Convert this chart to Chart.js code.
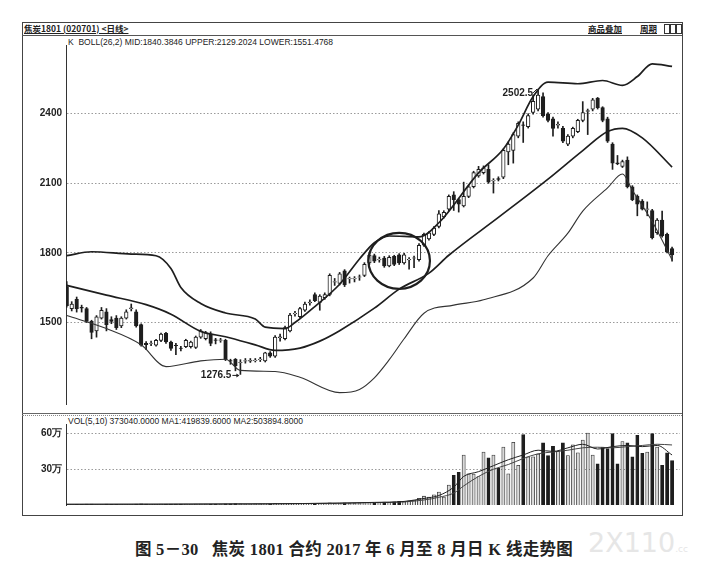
<!DOCTYPE html>
<html>
<head>
<meta charset="utf-8">
<script src="https://cdn.jsdelivr.net/npm/chart.js@4.4.1/dist/chart.umd.min.js"></script>
<style>
  body { margin: 0; background: #fff; width: 708px; height: 565px; position: relative; overflow: hidden;
         font-family: "Liberation Sans", Arial, sans-serif; color: #222; }
  .abs { position: absolute; white-space: nowrap; }
  #frame { left: 22px; top: 22px; width: 659px; height: 492px; border: 1px solid #444; }
  #titlebar { left: 22px; top: 35px; width: 660px; height: 0; border-top: 1px solid #555; }
  #sep1 { left: 22px; top: 413px; width: 660px; height: 0; border-top: 1px solid #666; }
  #sep2 { left: 22px; top: 415px; width: 660px; height: 0; border-top: 1px dotted #888; }
  .small { font-size: 8.5px; line-height: 10px; }
  .cjk { font-family: "Noto Sans CJK SC", sans-serif; }
  .btn { top: 24px; width: 4px; height: 8px; border: 1px solid #333; }
  canvas { position: absolute; }
  #caption { left: 0; top: 536px; width: 708px; text-align: center; font-family: "Liberation Serif", "Noto Sans CJK SC", serif;
             font-weight: bold; font-size: 16.5px; letter-spacing: 0.3px; color: #222; }
  #wm { left: 588px; top: 527px; font-family: "DejaVu Sans", sans-serif; font-size: 27px; color: #e6e6e6; }
</style>
</head>
<body>
<div id="frame" class="abs"></div>
<div id="titlebar" class="abs"></div>
<div id="sep1" class="abs"></div>
<div id="sep2" class="abs"></div>
<div class="abs small cjk" style="left:24px;top:23px;text-decoration:underline;font-weight:bold;">焦炭1801 (020701) &lt;日线&gt;</div>
<div class="abs small cjk" style="left:588px;top:23px;text-decoration:underline;font-weight:bold;">商品叠加</div>
<div class="abs small cjk" style="left:640px;top:23px;text-decoration:underline;font-weight:bold;">周期</div>
<div class="abs btn" style="left:664px;"></div>
<div class="abs btn" style="left:670px;"></div>
<div class="abs btn" style="left:676px;"></div>
<div class="abs small" style="left:68px;top:37px;">K&nbsp; BOLL(26,2) MID:1840.3846 UPPER:2129.2024 LOWER:1551.4768</div>
<div class="abs small" style="left:68px;top:416px;">VOL(5,10) 373040.0000 MA1:419839.6000 MA2:503894.8000</div>

<canvas id="price" width="660" height="379" style="left:22px;top:35px;"></canvas>
<canvas id="vol" width="660" height="101" style="left:22px;top:414px;"></canvas>

<div id="caption" class="abs">图 5－30&nbsp;&nbsp; 焦炭 1801 合约 2017 年 6 月至 8 月日 K 线走势图</div>
<div id="wm" class="abs">2X110<span style="font-size:9px">.cc</span></div>

<script>
// daily candles
const open = [1655,1560,1600,1566,1560,1505,1464,1519,1546,1513,1519,1485,1519,1560,1546,1491,1410,1410,1403,1423,
  1453,1416,1402,1390,1396,1396,1393,1437,1430,1450,1425,1423,1423,1336,1341,1327,1334,1334,1336,1340,
  1335,1369,1355,1435,1430,1464,1537,1525,1553,1585,1621,1587,1607,1621,1674,1669,1723,1688,1688,1695,
  1703,1757,1789,1770,1778,1744,1785,1792,1757,1770,1777,1771,1833,1860,1880,1914,1955,1989,2050,2030,
  2003,2044,2085,2132,2146,2160,2110,2120,2126,2235,2242,2303,2352,2344,2405,2419,2474,2399,2378,2350,
  2337,2269,2303,2323,2371,2410,2419,2467,2426,2378,2269,2188,2173,2200,2085,2044,2023,1988,1982,1887,
  1942,1880,1819];
const high = [1676,1590,1610,1575,1565,1510,1530,1565,1560,1525,1530,1525,1555,1580,1555,1495,1418,1420,1428,1455,
  1458,1420,1410,1398,1428,1420,1442,1470,1462,1460,1432,1432,1428,1342,1345,1340,1345,1345,1345,1350,
  1372,1375,1444,1450,1485,1540,1548,1566,1588,1598,1628,1620,1628,1710,1690,1716,1728,1696,1698,1705,
  1758,1799,1795,1782,1785,1788,1790,1797,1798,1780,1786,1840,1886,1892,1914,1983,1982,2050,2064,2035,
  2105,2092,2152,2173,2175,2180,2120,2128,2248,2278,2318,2365,2365,2400,2480,2502.5,2490,2405,2385,2365,
  2345,2310,2342,2376,2452,2420,2466,2470,2430,2385,2275,2220,2200,2214,2090,2050,2030,2020,1988,1948,
  1980,1885,1825];
const low = [1566,1550,1545,1545,1500,1430,1437,1515,1464,1495,1470,1478,1515,1550,1480,1398,1383,1400,1398,1418,
  1410,1380,1362,1378,1392,1390,1388,1432,1425,1400,1408,1415,1336,1320,1292,1276.5,1325,1328,1330,1332,
  1330,1350,1350,1420,1425,1460,1528,1520,1548,1575,1590,1553,1600,1615,1660,1662,1655,1670,1675,1682,
  1698,1750,1758,1760,1738,1740,1745,1750,1752,1730,1737,1765,1828,1855,1874,1908,1950,1982,1983,1976,
  1998,2038,2080,2126,2140,2100,2058,2110,2120,2180,2187,2296,2276,2338,2398,2412,2385,2365,2303,2338,
  2275,2262,2296,2318,2365,2310,2412,2420,2365,2276,2160,2180,2168,2080,2025,1960,1985,1960,1860,1880,
  1868,1800,1764];
const close = [1573,1580,1560,1562,1505,1457,1525,1553,1491,1505,1478,1519,1546,1563,1485,1403,1405,1412,1423,1450,
  1416,1389,1400,1388,1423,1416,1437,1464,1457,1410,1423,1425,1341,1334,1314,1329,1336,1337,1338,1343,
  1369,1355,1437,1438,1478,1532,1540,1560,1580,1588,1594,1614,1621,1703,1677,1710,1662,1690,1691,1697,
  1751,1791,1764,1772,1744,1781,1751,1757,1792,1772,1779,1833,1880,1887,1907,1969,1975,2044,2030,2010,
  2044,2085,2146,2160,2167,2105,2113,2117,2242,2269,2310,2358,2349,2392,2453,2480,2392,2371,2337,2354,
  2282,2303,2337,2371,2405,2413,2460,2426,2371,2282,2187,2185,2194,2085,2030,2010,1989,1990,1866,1942,
  1873,1805,1791];
// volume, in 万 (10 000 lots)
const volume = [0.6,0.5,0.6,0.5,0.7,0.8,0.6,0.5,0.7,0.6,0.5,0.6,0.6,0.5,0.7,0.9,0.7,0.6,0.6,0.7,
  0.7,0.8,0.8,0.7,0.7,0.6,0.7,0.8,0.7,0.8,0.7,0.7,1.0,0.9,1.1,0.9,0.8,0.8,0.9,0.9,
  1.0,0.9,1.3,1.1,1.2,1.4,1.2,1.3,1.4,1.3,1.5,1.4,1.4,1.8,1.5,1.7,1.9,1.6,1.7,1.8,
  2.0,2.3,2.1,2.0,2.4,2.2,2.6,3.0,2.8,3.5,4.2,5.6,
  7.4,6.6,8.5,10.9,6.6,16.8,25,27.4,42,26.2,26,23.9,44.4,39.7,42,30.9,48.6,26.2,52.6,33.3,
  59.2,40.4,40.4,42.7,52.2,41.5,49.3,45.1,52.2,41.5,50.5,43.9,54.5,60.4,42,34.5,48.6,47.4,60,34.5,
  53.3,52.2,40.4,58.5,43.4,44.4,60,48.6,33.3,43.9,37.3];

// BOLL(26,2) bands, read at these candle positions
const upperAt = [0,5,13,18,21,23,27,32,38,40,44,46,50,55,59,62,65,71,75,83,88,91,94,97,103,108,112,115,118,122];
const upper   = [1788,1805,1795,1788,1733,1651,1582,1541,1515,1480,1474,1500,1569,1665,1774,1844,1873,1869,1930,2145,2248,2351,2474,2536,2529,2543,2522,2560,2615,2604];
const midAt = [0,8,16,21,27,32,38,42,47,51,55,62,67,73,77,87,97,104,109,112,116,122];
const mid   = [1660,1618,1577,1536,1462,1439,1404,1380,1390,1420,1465,1562,1644,1713,1790,1953,2118,2241,2323,2337,2296,2170];
const lowerAt = [0,8,15,20,27,32,35,42,47,55,59,62,65,68,72,78,84,94,97,101,104,109,112,114,118,122];
const lower   = [1530,1474,1404,1310,1335,1342,1294,1289,1264,1198,1212,1262,1340,1430,1540,1575,1598,1692,1788,1885,1980,2080,2140,2070,1935,1770];

// volume moving averages (万)
const maAt = [0,20,40,55,62,68,72,75,78,80,83,86,89,92,95,98,101,104,107,110,113,116,119,122];
const ma1  = [0.6,0.7,1.0,1.6,2.2,3.0,5.5,8,15,24,28,33,38,42,46,45,48,51,47,49,50,49,50,42];
const ma2  = [0.6,0.7,0.9,1.5,2.0,2.6,4.2,6.5,10,16,24,30,34,39,43,44.5,46,48,48.5,48,49,50,51,50.4];

const priceTicks = [1500, 1800, 2100, 2400];
const volTicks = [30, 60];
const circled = { from: 61, to: 73, price: 1766 };

const ink = '#1e1e1e';
const idx = open.map((_, i) => i);
const up = idx.map(i => close[i] >= open[i]);
const pts = (xs, ys) => xs.map((x, k) => ({ x: x, y: ys[k] }));

const xScale = { type: 'linear', min: -0.15, max: 123.6, offset: false, display: false };
const yCommon = (ticks, min, max, fmt) => ({
  min: min, max: max,
  afterBuildTicks: s => { s.ticks = ticks.map(v => ({ value: v })); },
  afterFit: s => { s.width = 44; },
  grid: { color: '#9a9a9a', drawTicks: false, lineWidth: 1 },
  border: { color: '#333', width: 1, dash: [1.5, 2] },
  ticks: { color: '#222', padding: 4, font: { family: 'Liberation Sans', size: 10, weight: 'bold' }, callback: fmt }
});

const marks = {
  id: 'marks',
  afterDatasetsDraw(chart) {
    const { ctx, scales: { x, y } } = chart;
    ctx.save();
    ctx.fillStyle = ink; ctx.strokeStyle = ink;
    ctx.font = 'bold 10px "Liberation Sans"';
    let lo = 0, hi = 0;
    idx.forEach(i => { if (low[i] < low[lo]) lo = i; if (high[i] > high[hi]) hi = i; });
    // lowest low
    let px = x.getPixelForValue(lo), py = y.getPixelForValue(low[lo]);
    ctx.textAlign = 'right'; ctx.textBaseline = 'middle';
    ctx.fillText(low[lo].toFixed(1), px - 9, py + 1);
    ctx.lineWidth = 1;
    ctx.beginPath(); ctx.moveTo(px - 8, py + 1); ctx.lineTo(px - 2, py + 1); ctx.stroke();
    ctx.beginPath(); ctx.moveTo(px - 1, py + 1); ctx.lineTo(px - 4, py - 1); ctx.lineTo(px - 4, py + 3); ctx.fill();
    // highest high
    px = x.getPixelForValue(hi); py = y.getPixelForValue(high[hi]);
    ctx.fillText(high[hi].toFixed(1), px - 5, py + 3);
    ctx.beginPath(); ctx.moveTo(px - 5, py + 3); ctx.lineTo(px - 1, py - 1); ctx.stroke();
    // circled consolidation
    const cx = (x.getPixelForValue(circled.from) + x.getPixelForValue(circled.to)) / 2;
    const rx = (x.getPixelForValue(circled.to) - x.getPixelForValue(circled.from)) / 2 + 1;
    const cy = y.getPixelForValue(circled.price);
    ctx.lineWidth = 2.2;
    ctx.beginPath(); ctx.ellipse(cx, cy, rx, 28, 0, 0, Math.PI * 2); ctx.stroke();
    ctx.restore();
  }
};

new Chart(document.getElementById('price'), {
  type: 'bar',
  data: {
    datasets: [
      { type: 'line', data: pts(upperAt, upper), borderColor: ink, borderWidth: 1.7, pointRadius: 0, cubicInterpolationMode: 'monotone', order: 0 },
      { type: 'line', data: pts(midAt, mid), borderColor: ink, borderWidth: 1.7, pointRadius: 0, cubicInterpolationMode: 'monotone', order: 0 },
      { type: 'line', data: pts(lowerAt, lower), borderColor: '#333', borderWidth: 1.1, pointRadius: 0, cubicInterpolationMode: 'monotone', order: 0 },
      { data: idx.map(i => ({ x: i, y: [open[i], close[i]] })), grouped: false, barThickness: 3.6, borderSkipped: false,
        backgroundColor: up.map(u => u ? '#fff' : ink), borderColor: ink, borderWidth: 1, order: 1 },
      { data: idx.map(i => ({ x: i, y: [low[i], high[i]] })), grouped: false, barThickness: 1,
        backgroundColor: ink, borderWidth: 0, order: 2 }
    ]
  },
  options: {
    responsive: false, animation: false, devicePixelRatio: 1,
    layout: { padding: { top: 1, bottom: 2, right: 2, left: 0 } },
    plugins: { legend: { display: false }, tooltip: { enabled: false } },
    scales: { x: xScale, y: yCommon(priceTicks, 1149, 2696, v => v) }
  },
  plugins: [marks]
});

new Chart(document.getElementById('vol'), {
  type: 'bar',
  data: {
    datasets: [
      { type: 'line', data: pts(maAt, ma1), borderColor: '#222', borderWidth: 1, pointRadius: 0, cubicInterpolationMode: 'monotone', order: 0 },
      { type: 'line', data: pts(maAt, ma2), borderColor: '#444', borderWidth: 1, pointRadius: 0, cubicInterpolationMode: 'monotone', order: 0 },
      { data: idx.map(i => ({ x: i, y: volume[i] })), barThickness: 3.2, borderSkipped: 'start',
        backgroundColor: up.map(u => u ? '#d9d9d9' : ink), borderColor: up.map(u => u ? '#333' : ink), borderWidth: 0.8, order: 1 }
    ]
  },
  options: {
    responsive: false, animation: false, devicePixelRatio: 1,
    layout: { padding: { top: 2, bottom: 3, right: 2, left: 0 } },
    plugins: { legend: { display: false }, tooltip: { enabled: false } },
    scales: { x: xScale, y: yCommon(volTicks, 0, 68, v => v + '万') }
  }
});
</script>
</body>
</html>
